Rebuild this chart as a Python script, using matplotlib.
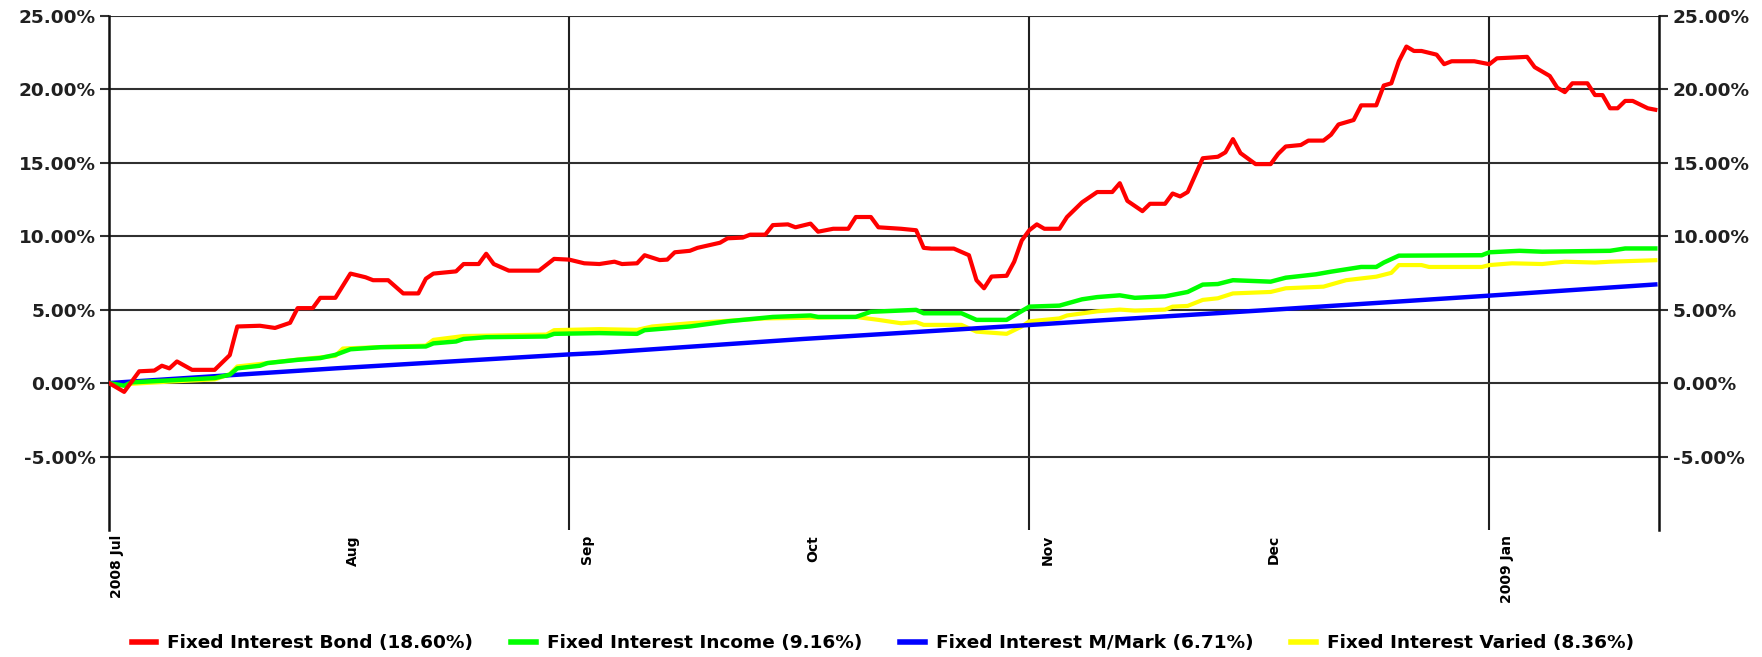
import pandas as pd
import matplotlib
matplotlib.use("Agg")
import matplotlib.pyplot as plt
import matplotlib.transforms as mtransforms
from matplotlib import font_manager

# ---- data (day offsets from 2 Jul 2008, cumulative return %) ----
START = pd.Timestamp("2008-07-02")
END_DAY = 205.5

bond_day = [0, 2, 4, 6, 7, 8, 9, 11, 14, 16, 17, 20, 22, 24, 25, 27, 28, 30, 32, 34,
            35, 37, 39, 41, 42, 43, 46, 47, 49, 50, 51, 53, 57, 59, 61, 63, 65, 67, 68, 70,
            71, 73, 74, 75, 77, 78, 81, 82, 84, 85, 87, 88, 90, 91, 93, 94, 96, 98, 99, 101,
            102, 105, 107, 108, 109, 112, 114, 115, 116, 117, 119, 120, 121, 122, 123, 124, 126, 127, 129, 131,
            133, 134, 135, 137, 138, 140, 141, 142, 143, 145, 147, 148, 149, 150, 152, 154, 155, 156, 158, 159,
            161, 162, 163, 165, 166, 168, 169, 170, 171, 172, 173, 174, 176, 177, 178, 181, 183, 184, 188, 189,
            191, 192, 193, 194, 196, 197, 198, 199, 200, 201, 202, 204, 205]
bond_val = [0.0, -0.6, 0.8, 0.85, 1.18, 1.0, 1.47, 0.9, 0.9, 1.9, 3.85, 3.9, 3.75, 4.1, 5.1, 5.1, 5.8, 5.8, 7.45, 7.2,
            7.0, 7.0, 6.1, 6.1, 7.1, 7.45, 7.6, 8.1, 8.1, 8.8, 8.1, 7.65, 7.65, 8.45, 8.4, 8.15, 8.1, 8.26, 8.1, 8.15,
            8.7, 8.37, 8.4, 8.9, 9.0, 9.2, 9.55, 9.85, 9.9, 10.1, 10.1, 10.75, 10.8, 10.6, 10.85, 10.3, 10.5, 10.5, 11.3, 11.3,
            10.6, 10.5, 10.4, 9.2, 9.15, 9.15, 8.7, 7.0, 6.45, 7.25, 7.3, 8.26, 9.7, 10.4, 10.8, 10.5, 10.5, 11.3, 12.3, 13.0,
            13.0, 13.6, 12.4, 11.7, 12.2, 12.2, 12.9, 12.7, 13.0, 15.3, 15.4, 15.7, 16.6, 15.65, 14.9, 14.9, 15.6, 16.1, 16.2, 16.5,
            16.5, 16.9, 17.6, 17.9, 18.9, 18.9, 20.25, 20.4, 21.9, 22.9, 22.6, 22.6, 22.35, 21.7, 21.9, 21.9, 21.7, 22.1, 22.2, 21.5,
            20.9, 20.1, 19.8, 20.4, 20.4, 19.6, 19.6, 18.7, 18.7, 19.2, 19.2, 18.7, 18.6]

income_day = [0, 2, 3, 8, 14, 16, 17, 20, 21, 25, 28, 30, 32, 36, 42, 43, 46, 47, 50, 58,
              59, 65, 70, 71, 77, 82, 88, 93, 94, 99, 101, 107, 108, 113, 115, 119, 122, 126, 129, 131,
              134, 136, 140, 143, 145, 147, 149, 154, 156, 160, 162, 166, 168, 169, 171, 182, 183, 187, 190, 199,
              201, 205]
income_val = [0.0, -0.18, 0.05, 0.18, 0.34, 0.57, 1.0, 1.18, 1.36, 1.58, 1.7, 1.92, 2.3, 2.44, 2.49, 2.7, 2.83, 3.0, 3.12, 3.17,
              3.35, 3.4, 3.35, 3.6, 3.85, 4.2, 4.5, 4.6, 4.5, 4.5, 4.85, 4.98, 4.75, 4.75, 4.3, 4.3, 5.2, 5.27, 5.7, 5.85,
              5.97, 5.8, 5.9, 6.2, 6.7, 6.74, 7.0, 6.9, 7.17, 7.4, 7.58, 7.9, 7.9, 8.2, 8.67, 8.7, 8.9, 9.0, 8.94, 9.0,
              9.16, 9.16]

mmark_day = [0, 30, 61, 65, 92, 122, 131, 153, 183, 205]
mmark_val = [0.0, 1.0, 1.95, 2.05, 3.0, 3.95, 4.25, 4.95, 5.95, 6.71]

varied_day = [0, 2, 3, 8, 14, 16, 17, 20, 25, 30, 31, 36, 42, 43, 47, 58, 59, 65, 70, 72,
              77, 87, 93, 99, 102, 105, 107, 108, 113, 115, 119, 121, 122, 126, 127, 131, 134, 136, 140, 141,
              143, 145, 147, 149, 154, 156, 161, 164, 168, 170, 171, 174, 175, 182, 183, 186, 190, 193, 197, 199,
              205]
varied_val = [0.0, -0.1, -0.05, 0.1, 0.25, 0.6, 1.13, 1.3, 1.6, 1.85, 2.35, 2.45, 2.55, 2.94, 3.2, 3.3, 3.6, 3.67, 3.62, 3.85,
              4.07, 4.4, 4.45, 4.5, 4.3, 4.07, 4.15, 3.96, 3.96, 3.5, 3.35, 3.85, 4.2, 4.4, 4.6, 4.88, 5.0, 4.93, 5.0, 5.2,
              5.25, 5.66, 5.77, 6.1, 6.2, 6.45, 6.56, 7.0, 7.24, 7.5, 8.03, 8.03, 7.9, 7.9, 8.03, 8.15, 8.1, 8.26, 8.2, 8.26,
              8.36]

tick_dates = ["2008-07-02", "2008-08-01", "2008-09-01", "2008-10-01", "2008-11-01", "2008-12-01", "2009-01-01"]
tick_labels = ["2008 Jul", "Aug", "Sep", "Oct", "Nov", "Dec", "2009 Jan"]
vgrid_dates = ["2008-09-01", "2008-11-01", "2009-01-01"]
yticks = [-5, 0, 5, 10, 15, 20, 25]


def to_dates(days):
    return START + pd.to_timedelta(days, unit="D")


# ---- fonts ----
avail = {f.name for f in font_manager.fontManager.ttflist}
if "Liberation Sans Narrow" in avail:
    xfont, xsize = "Liberation Sans Narrow", 14
elif "DejaVu Sans Condensed" in avail:
    xfont, xsize = "DejaVu Sans Condensed", 11
else:
    xfont, xsize = "DejaVu Sans", 10

# ---- figure ----
fig = plt.figure(figsize=(17.62, 6.57), dpi=100)
ax = fig.add_axes([0.0619, 0.1933, 0.8797, 0.7828])

ax.plot(to_dates(varied_day), varied_val, color="#FFFF00", lw=3.0, zorder=3)
ax.plot(to_dates(mmark_day), mmark_val, color="#0000FF", lw=3.2, zorder=4)
ax.plot(to_dates(income_day), income_val, color="#00FF00", lw=3.2, zorder=5)
ax.plot(to_dates(bond_day), bond_val, color="#FF0000", lw=3.0, zorder=6)

ax.set_xlim(START, START + pd.Timedelta(days=END_DAY))
ax.set_ylim(-10, 25)

ax.set_yticks(yticks)
ax.set_yticklabels([f"{v:.2f}%" for v in yticks], fontsize=13.3, fontweight="bold", color="#202020")
ax.tick_params(axis="y", left=True, right=True, labelleft=True, labelright=True,
               direction="out", length=6.5, width=1.5, color="#303030", pad=3.2)
ax.grid(axis="y", color="#303030", lw=1.5, zorder=1)
for d in vgrid_dates:
    ax.axvline(pd.Timestamp(d), color="#202020", lw=1.5, zorder=1)

ax.set_xticks([pd.Timestamp(d) for d in tick_dates])
ax.set_xticklabels(tick_labels, rotation=90, fontfamily=xfont, fontsize=xsize, fontweight="bold")
ax.tick_params(axis="x", length=0, pad=3.6)
for i, lab in enumerate(ax.get_xticklabels()):
    dx = 8 if i == 0 else 18
    lab.set_transform(lab.get_transform() + mtransforms.ScaledTranslation(dx / 100, 0, fig.dpi_scale_trans))

for s in ["top", "bottom"]:
    ax.spines[s].set_visible(False)
for s in ["left", "right"]:
    ax.spines[s].set_linewidth(1.8)
    ax.spines[s].set_color("#101010")

# ---- legend ----
names = ["Fixed Interest Bond (18.60%)", "Fixed Interest Income (9.16%)",
         "Fixed Interest M/Mark (6.71%)", "Fixed Interest Varied (8.36%)"]
colors = ["#FF0000", "#00FF00", "#0000FF", "#FFFF00"]
handles = [plt.Line2D([], [], color=c, lw=4) for c in colors]
leg = fig.legend(handles, names, loc="center", bbox_to_anchor=(0.501, 14 / 657), ncol=4,
                 frameon=False, prop={"weight": "bold", "size": 13.3},
                 handlelength=1.33, handletextpad=0.6, columnspacing=2.05, borderpad=0)

fig.savefig("out.png", dpi=100)
